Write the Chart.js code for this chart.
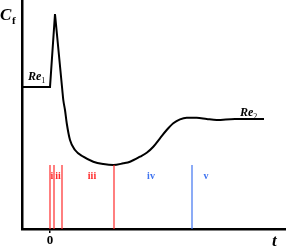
<!DOCTYPE html>
<html><head><meta charset="utf-8">
<script src="https://cdn.jsdelivr.net/npm/chart.js@4/dist/chart.umd.min.js"></script>
<style>html,body{margin:0;padding:0;background:#fff;}#wrap{width:286px;height:247px;}</style>
</head><body><div id="wrap"><canvas id="c"></canvas></div>
<script>
// Initial part: Re1 plateau and sharp spike (straight segments)
const tSpike = [-2.8, 0, 0.5, 1.23];
const cfSpike = [1.42, 1.42, 2.15, 1.39];
// Relaxation curve (smooth)
const tCurve = [1.23, 1.33, 1.5, 1.67, 2.0, 2.5, 3.33, 4.33, 5.33, 6.33, 7.33, 8.0, 9.0, 9.67, 10.33, 11.0, 11.67, 12.33, 13.0, 13.67, 14.67, 15.67, 16.67, 18.5, 21.4];
const cfCurve = [1.39, 1.29, 1.19, 1.06, 0.89, 0.79, 0.723, 0.673, 0.65, 0.64, 0.657, 0.673, 0.723, 0.763, 0.823, 0.907, 0.99, 1.057, 1.097, 1.113, 1.113, 1.10, 1.09, 1.10, 1.10];
// Stage boundaries
const redBounds = [0, 0.4, 1.2, 6.4];
const blueBounds = [14.2];
const boundTop = 0.64;
// Stage labels
const stageNames = ['i', 'ii', 'iii', 'iv', 'v'];
const stageT = [0.2, 0.8, 4.2, 10.1, 15.6];
const stageColors = ['red', 'red', 'red', 'blue', 'blue'];
const xTicks = [0];

const RED = '#ff2a2a', BLUE = '#3f73f0';
const pts = (xs, ys) => xs.map((x, i) => ({x, y: ys[i]}));
const datasets = [];
redBounds.forEach(t => datasets.push({data: pts([t, t], [0, boundTop]), borderColor: RED, borderWidth: 1.2, pointRadius: 0, showLine: true}));
blueBounds.forEach(t => datasets.push({data: pts([t, t], [0, boundTop]), borderColor: BLUE, borderWidth: 1.2, pointRadius: 0, showLine: true}));
datasets.push({data: pts(tSpike, cfSpike), borderColor: '#000', borderWidth: 2, pointRadius: 0, showLine: true, tension: 0});
datasets.push({data: pts(tCurve, cfCurve), borderColor: '#000', borderWidth: 2, pointRadius: 0, showLine: true, cubicInterpolationMode: 'monotone'});

const textPlugin = {
  id: 'txt',
  afterDraw(chart) {
    const ctx = chart.ctx, xs = chart.scales.x, ys = chart.scales.y, ca = chart.chartArea;
    ctx.save();
    ctx.textBaseline = 'alphabetic';
    ctx.fillStyle = '#000';
    // Cf
    ctx.font = 'italic bold 17px "Liberation Serif"';
    ctx.textAlign = 'left';
    ctx.fillText('C', 0, 20);
    ctx.font = 'bold 11px "Liberation Serif"';
    ctx.fillText('f', 12, 24);
    // Re labels
    function re(x, y, sub) {
      ctx.font = 'italic bold 12px "Liberation Serif"';
      ctx.fillText('Re', x, y);
      const w = ctx.measureText('Re').width;
      ctx.font = '8px "Liberation Serif"';
      ctx.fillText(sub, x + w, y + 3);
    }
    re(xs.getPixelForValue(-2.2), ys.getPixelForValue(1.49), '1');
    re(xs.getPixelForValue(19.0), ys.getPixelForValue(1.13), '2');
    // t
    ctx.font = 'italic bold 17px "Liberation Serif"';
    ctx.fillText('t', ca.right - 14, ca.bottom + 17);
    // stage labels
    ctx.font = 'bold 10px "Liberation Serif"';
    ctx.textAlign = 'center';
    stageNames.forEach((s, i) => {
      ctx.fillStyle = stageColors[i] === 'red' ? RED : BLUE;
      ctx.fillText(s, xs.getPixelForValue(stageT[i]), ys.getPixelForValue(0.505));
    });
    ctx.restore();
  }
};

new Chart(document.getElementById('c'), {
  type: 'scatter',
  data: {datasets},
  options: {
    responsive: true, maintainAspectRatio: false, animation: false,
    layout: {padding: 0},
    plugins: {legend: {display: false}, tooltip: {enabled: false}},
    scales: {
      x: {
        type: 'linear', min: -2.8, max: 23.6,
        afterBuildTicks: s => { s.ticks = xTicks.map(v => ({value: v})); },
        afterFit: s => { s.height = 18; },
        grid: {display: true, drawOnChartArea: false, drawTicks: true, tickLength: 4, color: '#000', lineWidth: 1.5},
        border: {display: true, color: '#000', width: 2.5},
        ticks: {color: '#000', padding: 0, font: {family: 'Liberation Serif', weight: 'bold', size: 13}}
      },
      y: {
        type: 'linear', min: 0, max: 2.29,
        afterFit: s => { s.width = 22; },
        grid: {display: false},
        border: {display: true, color: '#000', width: 2.5},
        ticks: {display: false}
      }
    }
  },
  plugins: [textPlugin]
});
</script></body></html>
